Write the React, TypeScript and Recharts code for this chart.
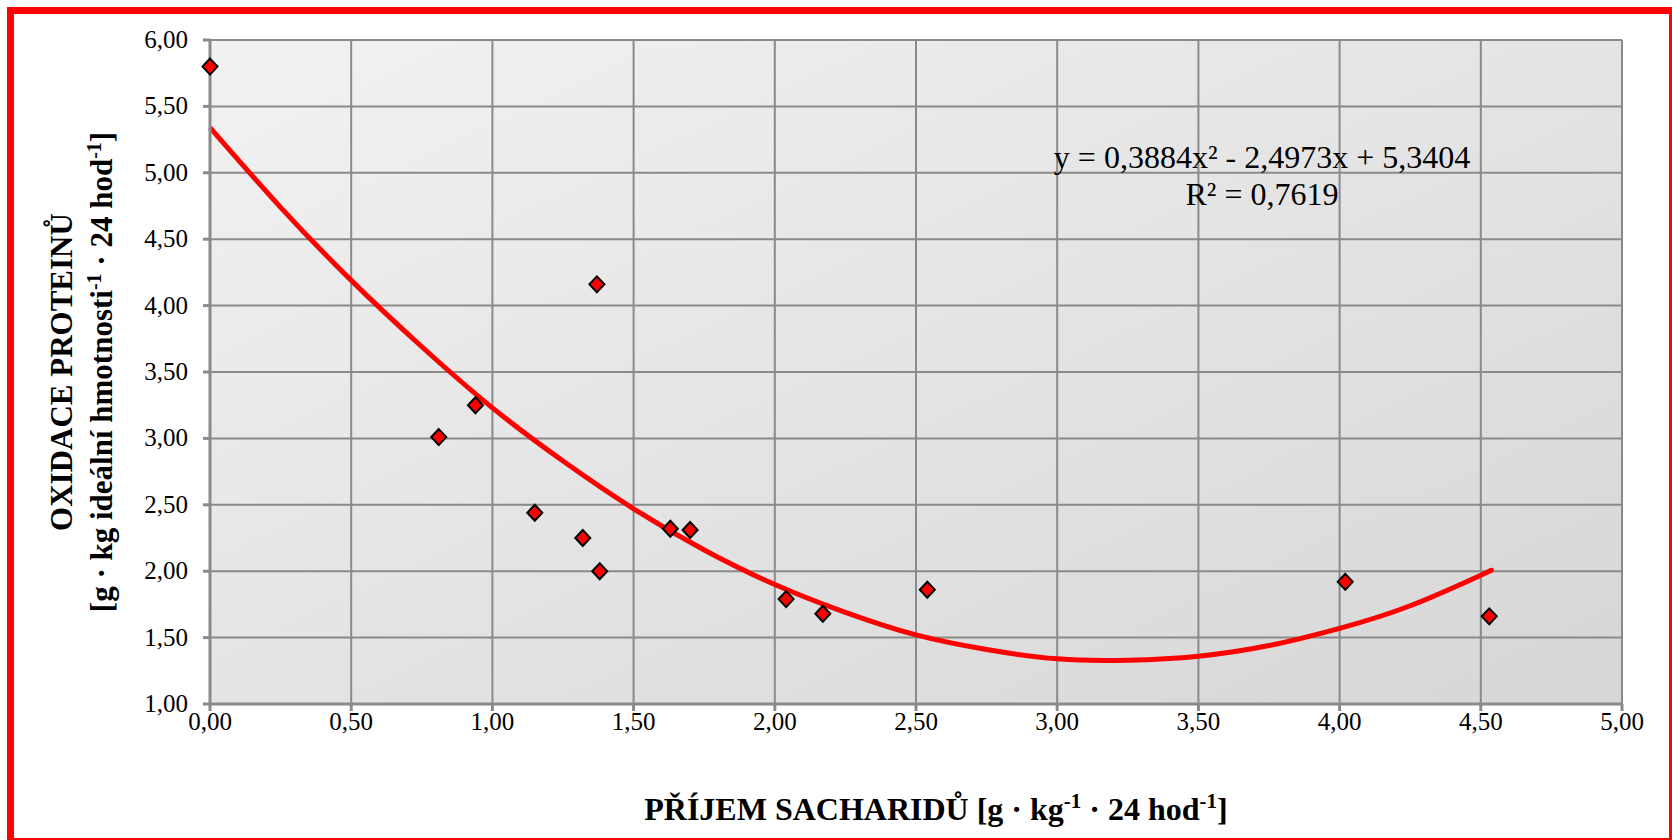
import { ComposedChart, Scatter, Line, XAxis, YAxis, CartesianGrid } from 'recharts';

// měřené body: příjem sacharidů vs. oxidace proteinů
const carbIntake = [0, 0.81, 0.94, 1.15, 1.32, 1.38, 1.37, 1.63, 1.7, 2.04, 2.17, 2.54, 4.02, 4.53];
const proteinOxidation = [5.8, 3.01, 3.25, 2.44, 2.25, 2.0, 4.16, 2.32, 2.31, 1.79, 1.68, 1.86, 1.92, 1.66];

// polynomický trend
const trendX = [0, 0.25, 0.5, 0.75, 1, 1.25, 1.5, 1.75, 2, 2.25, 2.5, 2.75, 3, 3.25, 3.5, 3.75, 4, 4.25, 4.5, 4.53];
const trendY = [5.34, 4.74, 4.19, 3.69, 3.23, 2.83, 2.47, 2.16, 1.9, 1.69, 1.52, 1.41, 1.34, 1.33, 1.36, 1.44, 1.57, 1.74, 1.97, 2.0];

const xTicks = [0, 0.5, 1, 1.5, 2, 2.5, 3, 3.5, 4, 4.5, 5];
const yTicks = [1, 1.5, 2, 2.5, 3, 3.5, 4, 4.5, 5, 5.5, 6];

const equationText = 'y = 0,3884x² - 2,4973x + 5,3404';
const rSquaredText = 'R² = 0,7619';

const FONT = '"Liberation Serif", "Times New Roman", serif';
const GRID = '#8a8a8a';

const points = carbIntake.map((x, i) => ({ x, y: proteinOxidation[i] }));
const trend = trendX.map((x, i) => ({ x, y: trendY[i] }));

const fmt = (v: number) => v.toFixed(2).replace('.', ',');

const Diamond = (props: any) => {
  const { cx, cy } = props;
  if (cx == null || cy == null) return null;
  return (
    <path
      d={`M${cx},${cy - 8}L${cx + 7.5},${cy}L${cx},${cy + 8}L${cx - 7.5},${cy}Z`}
      fill="#ff0000"
      stroke="#000"
      strokeWidth={2}
      strokeLinejoin="miter"
    />
  );
};

const XTick = (props: any) => {
  const { x, y, payload } = props;
  return (
    <text x={x} y={y + 19} textAnchor="middle" style={{ fontFamily: FONT, fontSize: 25 }} fill="#000">
      {fmt(payload.value)}
    </text>
  );
};

const YTick = (props: any) => {
  const { x, y, payload } = props;
  return (
    <text x={x} y={y + 8} textAnchor="end" style={{ fontFamily: FONT, fontSize: 25 }} fill="#000">
      {fmt(payload.value)}
    </text>
  );
};

const XTitle = (props: any) => {
  const vb = props.viewBox || { x: 210, y: 704, width: 1412, height: 136 };
  return (
    <text
      x={vb.x + vb.width / 2 + 20}
      y={vb.y + 116}
      textAnchor="middle"
      style={{ fontFamily: FONT, fontWeight: 'bold', fontSize: 32 }}
      fill="#000"
    >
      PŘÍJEM SACHARIDŮ [g · kg
      <tspan baselineShift="super" fontSize={21}>-1</tspan>
      <tspan> · 24 hod</tspan>
      <tspan baselineShift="super" fontSize={21}>-1</tspan>
      <tspan>]</tspan>
    </text>
  );
};

const YTitle = (props: any) => {
  const vb = props.viewBox || { x: 0, y: 40, width: 210, height: 664 };
  const cy = vb.y + vb.height / 2;
  const st = { fontFamily: FONT, fontWeight: 'bold' as const, fontSize: 31 };
  return (
    <g transform={`translate(72, ${cy}) rotate(-90)`}>
      <text x={0} y={0} textAnchor="middle" style={st} fill="#000">
        OXIDACE PROTEINŮ
      </text>
      <text x={0} y={40} textAnchor="middle" style={st} fill="#000">
        [g · kg ideální hmotnosti
        <tspan baselineShift="super" fontSize={20}>-1</tspan>
        <tspan> · 24 hod</tspan>
        <tspan baselineShift="super" fontSize={20}>-1</tspan>
        <tspan>]</tspan>
      </text>
    </g>
  );
};

export default function App() {
  return (
    <div
      style={{
        position: 'fixed',
        left: 0,
        top: 0,
        width: 1672,
        height: 840,
        overflow: 'hidden',
        background: '#fff',
      }}
    >
      <svg width={0} height={0} style={{ position: 'absolute' }}>
        <defs>
          <linearGradient id="plotBg" x1="0" y1="0" x2="1" y2="1">
            <stop offset="0%" stopColor="#f2f2f2" />
            <stop offset="100%" stopColor="#d6d6d6" />
          </linearGradient>
        </defs>
      </svg>

      <div style={{ position: 'absolute', left: 0, top: 0 }}>
        <ComposedChart width={1672} height={840} margin={{ top: 40, right: 50, bottom: 0, left: 0 }}>
          <CartesianGrid stroke={GRID} strokeWidth={2} fill="url(#plotBg)" fillOpacity={1} />
          <XAxis
            type="number"
            dataKey="x"
            domain={[0, 5]}
            ticks={xTicks}
            height={136}
            stroke={GRID}
            strokeWidth={3}
            tickSize={7}
            tickMargin={0}
            tick={<XTick />}
            label={<XTitle />}
          />
          <YAxis
            type="number"
            dataKey="y"
            domain={[1, 6]}
            ticks={yTicks}
            width={210}
            stroke={GRID}
            strokeWidth={3}
            tickSize={7}
            tickMargin={15}
            tick={<YTick />}
            label={<YTitle />}
          />
          <Scatter data={points} dataKey="y" shape={<Diamond />} isAnimationActive={false} />
          <Line
            data={trend}
            dataKey="y"
            type="natural"
            stroke="#ff0000"
            strokeWidth={5}
            dot={false}
            activeDot={false}
            isAnimationActive={false}
          />
        </ComposedChart>
      </div>

      <svg width={1672} height={840} style={{ position: 'absolute', left: 0, top: 0, pointerEvents: 'none' }}>
        <text x={1262} y={168} textAnchor="middle" style={{ fontFamily: FONT, fontSize: 32 }} fill="#000">
          {equationText}
        </text>
        <text x={1262} y={205} textAnchor="middle" style={{ fontFamily: FONT, fontSize: 32 }} fill="#000">
          {rSquaredText}
        </text>
      </svg>

      <div
        style={{
          position: 'absolute',
          left: 7,
          top: 7,
          width: 1669,
          height: 838,
          border: '7px solid #ff0000',
          boxSizing: 'border-box',
        }}
      />
    </div>
  );
}
